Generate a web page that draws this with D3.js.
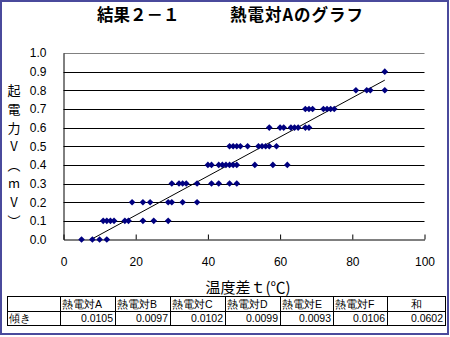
<!DOCTYPE html>
<html>
<head>
<meta charset="utf-8">
<script src="https://cdn.jsdelivr.net/npm/d3@7"></script>
<style>
  html, body { margin: 0; padding: 0; background: #fff; }
  svg { display: block; }
  text { font-family: "Liberation Sans", Arial, sans-serif; }
  .jp { font-family: "Noto Sans CJK JP", "Noto Sans CJK SC", sans-serif; }
  .vtitle { writing-mode: vertical-rl; text-orientation: upright; }
</style>
</head>
<body>
<script>
// Measured thermocouple A: temperature difference t (°C) and EMF (mV)
const tempDiff = [
  5, 8, 10, 12,
  11, 12, 13, 14, 17, 18, 22, 25, 29,
  19, 22, 24, 29, 30, 33, 37,
  30, 32, 33, 34, 37, 41, 43, 46, 48,
  40, 41, 43, 44, 45, 46, 47, 48, 53, 58, 62,
  46, 47, 48, 49, 51, 54, 55, 56, 57, 59,
  57, 60, 61, 63, 64, 65, 67, 68,
  67, 68, 69, 72, 73, 74, 75,
  81, 84, 85, 89,
  89
];
const emf = [
  0.0, 0.0, 0.0, 0.0,
  0.1, 0.1, 0.1, 0.1, 0.1, 0.1, 0.1, 0.1, 0.1,
  0.2, 0.2, 0.2, 0.2, 0.2, 0.2, 0.2,
  0.3, 0.3, 0.3, 0.3, 0.3, 0.3, 0.3, 0.3, 0.3,
  0.4, 0.4, 0.4, 0.4, 0.4, 0.4, 0.4, 0.4, 0.4, 0.4, 0.4,
  0.5, 0.5, 0.5, 0.5, 0.5, 0.5, 0.5, 0.5, 0.5, 0.5,
  0.6, 0.6, 0.6, 0.6, 0.6, 0.6, 0.6, 0.6,
  0.7, 0.7, 0.7, 0.7, 0.7, 0.7, 0.7,
  0.8, 0.8, 0.8, 0.8,
  0.9
];

// Linear trend for thermocouple A (slope as listed in the table)
const trendSlope = 0.0105;
const trendIntercept = -0.08;

const xTicks = [0, 20, 40, 60, 80, 100];
const yTicks = [0, 0.1, 0.2, 0.3, 0.4, 0.5, 0.6, 0.7, 0.8, 0.9, 1.0];

// Slope summary table
const tableHeaders = ["", "熱電対A", "熱電対B", "熱電対C", "熱電対D", "熱電対E", "熱電対F", "和"];
const tableRowLabel = "傾き";
const slopes = ["0.0105", "0.0097", "0.0102", "0.0099", "0.0093", "0.0106", "0.0602"];

const titleLeft = "結果２－１";
const titleRight = "熱電対Aのグラフ";
const xTitle = "温度差ｔ(℃)";
const yTitle = "起電力V（mV）";

const W = 450, H = 337;
const svg = d3.select("body").append("svg").attr("width", W).attr("height", H);

svg.append("rect").attr("width", W).attr("height", H).attr("fill", "#fff");

const plot = { left: 63.5, right: 424.5, top: 53, bottom: 239.5 };
const x = d3.scaleLinear().domain([0, 100]).range([plot.left, plot.right]);
const y = d3.scaleLinear().domain([0, 1]).range([plot.bottom, plot.top]);

// Title
svg.append("text").attr("class", "jp")
  .attr("x", 97).attr("y", 21)
  .attr("font-size", 16.5).attr("font-weight", "bold")
  .text(titleLeft);
svg.append("text").attr("class", "jp")
  .attr("x", 230).attr("y", 21)
  .attr("font-size", 16.5).attr("font-weight", "bold")
  .attr("letter-spacing", 1)
  .text(titleRight);

// Horizontal gridlines
svg.append("g").selectAll("line")
  .data(yTicks.slice(1))
  .join("line")
  .attr("x1", plot.left).attr("x2", plot.right)
  .attr("y1", d => Math.round(y(d)) + 0.5).attr("y2", d => Math.round(y(d)) + 0.5)
  .attr("stroke", d => d === 1 ? "#808080" : "#000")
  .attr("stroke-width", 1);

// Y axis
const yAxis = d3.axisLeft(y).tickValues(yTicks).tickFormat(d3.format(".1f")).tickSize(0).tickPadding(17);
const gy = svg.append("g").attr("transform", `translate(${plot.left},0)`).call(yAxis);
gy.select(".domain").attr("stroke", "#000");
gy.selectAll("text").attr("font-size", 12).attr("fill", "#000").attr("font-family", "Liberation Sans, Arial, sans-serif");

// X axis (ticks point inward)
const xAxis = d3.axisBottom(x).tickValues(xTicks).tickSizeInner(-5).tickSizeOuter(0).tickPadding(18);
const gx = svg.append("g").attr("transform", `translate(0,${plot.bottom})`).call(xAxis);
gx.select(".domain").attr("stroke", "#000");
gx.selectAll(".tick line").attr("stroke", "#000");
gx.selectAll("text").attr("font-size", 12).attr("fill", "#000").attr("font-family", "Liberation Sans, Arial, sans-serif");

// Axis titles
svg.append("text").attr("class", "jp")
  .attr("x", 248).attr("y", 293)
  .attr("text-anchor", "middle").attr("font-size", 15)
  .text(xTitle);

// Vertical title: one character per tick row, from 0.8 down to 0.1
const yTitleSize = 13;
const rowStep = y(0) - y(0.1);
svg.append("text").attr("class", "jp vtitle")
  .attr("x", 14)
  .attr("y", y(0.8) - yTitleSize / 2)
  .attr("font-size", yTitleSize)
  .attr("letter-spacing", rowStep - yTitleSize)
  .text(yTitle);

// Trend line, clipped to the plot area
svg.append("clipPath").attr("id", "plotClip")
  .append("rect").attr("x", plot.left).attr("y", plot.top)
  .attr("width", plot.right - plot.left).attr("height", plot.bottom - plot.top);

const xMin = d3.min(tempDiff), xMax = d3.max(tempDiff);
svg.append("path")
  .datum([xMin, xMax])
  .attr("clip-path", "url(#plotClip)")
  .attr("d", d3.line().x(d => x(d)).y(d => y(trendSlope * d + trendIntercept)))
  .attr("stroke", "#000").attr("stroke-width", 1).attr("fill", "none");

// Data points (diamond markers)
const points = tempDiff.map((t, i) => ({ t, v: emf[i] }));
const diamond = d3.symbol().type(d3.symbolSquare).size(22);
svg.append("g").selectAll("path")
  .data(points)
  .join("path")
  .attr("d", diamond)
  .attr("transform", d => `translate(${x(d.t)},${y(d.v)}) rotate(45)`)
  .attr("fill", "#000080");

// Slope table
const colEdges = [7, 60, 115, 170, 225, 280, 333, 387, 445];
const rowEdges = [296, 311, 325];
const tbl = svg.append("g").attr("class", "jp");

tbl.append("rect")
  .attr("x", colEdges[0] + 0.5).attr("y", rowEdges[0] + 0.5)
  .attr("width", colEdges[colEdges.length - 1] - colEdges[0])
  .attr("height", rowEdges[2] - rowEdges[0])
  .attr("fill", "none").attr("stroke", "#000");
tbl.append("line")
  .attr("x1", colEdges[0]).attr("x2", colEdges[colEdges.length - 1])
  .attr("y1", rowEdges[1] + 0.5).attr("y2", rowEdges[1] + 0.5).attr("stroke", "#000");
tbl.selectAll("line.col")
  .data(colEdges.slice(1, -1))
  .join("line").attr("class", "col")
  .attr("x1", d => d + 0.5).attr("x2", d => d + 0.5)
  .attr("y1", rowEdges[0]).attr("y2", rowEdges[2]).attr("stroke", "#000");

tbl.selectAll("text.hdr")
  .data(tableHeaders)
  .join("text").attr("class", "hdr")
  .attr("x", (d, i) => i === tableHeaders.length - 1 ? (colEdges[i] + colEdges[i + 1]) / 2 : colEdges[i] + 2)
  .attr("y", rowEdges[1] - 3)
  .attr("text-anchor", (d, i) => i === tableHeaders.length - 1 ? "middle" : "start")
  .attr("font-size", 10.5)
  .text(d => d);

tbl.append("text")
  .attr("x", colEdges[0] + 2).attr("y", rowEdges[2] - 3)
  .attr("font-size", 10.5).text(tableRowLabel);

tbl.selectAll("text.val")
  .data(slopes)
  .join("text").attr("class", "val")
  .attr("x", (d, i) => colEdges[i + 2] - 2)
  .attr("y", rowEdges[2] - 3)
  .attr("text-anchor", "end")
  .attr("font-size", 10.5)
  .attr("font-family", "Liberation Sans, Arial, sans-serif")
  .text(d => d);

// Outer frame
svg.append("rect")
  .attr("x", 1).attr("y", 1).attr("width", W - 3).attr("height", H - 4)
  .attr("fill", "none").attr("stroke", "#4a4a9c").attr("stroke-width", 2);
</script>
</body>
</html>
